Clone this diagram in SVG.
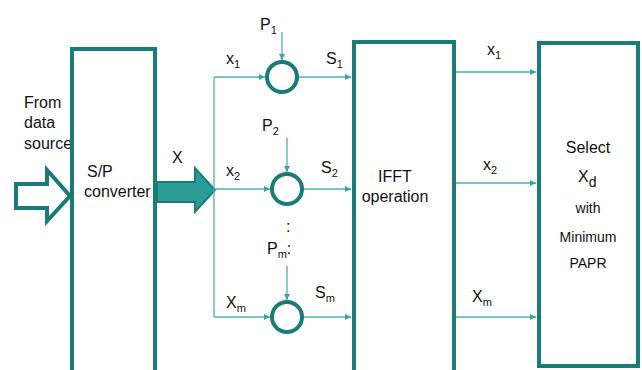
<svg xmlns="http://www.w3.org/2000/svg" width="642" height="370" viewBox="0 0 642 370">
<style>
text{font-family:"Liberation Sans",Arial,sans-serif;fill:#111;font-size:16px}
.s{font-size:11px}
.sm{font-size:14px}
.box{fill:#fff;stroke:#1b7b78;stroke-width:4}
.ring{fill:#fff;stroke:#1b7b78;stroke-width:4}
.ln{fill:none;stroke:#4fb0ab;stroke-width:1.3}
</style>
<defs>
<marker id="ah" markerUnits="userSpaceOnUse" markerWidth="7" markerHeight="7" refX="6" refY="3.5" orient="auto">
<path d="M0,0.5 L6,3.5 L0,6.5 Z" fill="#3aa39d"/>
</marker>
</defs>
<rect width="642" height="370" fill="#fff"/>

<g id="source">
<text x="24" y="108">From</text>
<text x="24" y="128">data</text>
<text x="24" y="149">source</text>
<path d="M16,184 H47 V170 L70,196 L47,221 V208 H16 Z" fill="#fff" stroke="#1b7b78" stroke-width="4" stroke-linejoin="miter"/>
</g>

<g id="sp">
<path class="box" d="M72,372 V49 H155 V372"/>
<text x="87" y="177">S/P</text>
<text x="84" y="197">converter</text>
</g>

<g id="xarrow">
<path d="M157,182 H195 V168 L215,190 L195,212 V202 H157 Z" fill="#2a9d96" stroke="#1b7b78" stroke-width="2"/>
<text x="172" y="163">X</text>
</g>

<g id="mix1">
<circle class="ring" cx="282" cy="77" r="15"/>
<text x="260" y="30">P<tspan class="s" dy="4">1</tspan></text>
</g>
<g id="mix2">
<circle class="ring" cx="287" cy="189" r="15"/>
<text x="262" y="131">P<tspan class="s" dy="4">2</tspan></text>
</g>
<g id="mixm">
<circle class="ring" cx="287" cy="317" r="15"/>
<text x="267" y="254">P<tspan class="s" dy="4">m</tspan><tspan dy="-4">:</tspan></text>
<text x="286" y="232">:</text>
</g>

<g id="ifft">
<path class="box" d="M354,372 V42 H454 V372"/>
<text x="395" y="182" text-anchor="middle">IFFT</text>
<text x="395" y="202" text-anchor="middle">operation</text>
</g>

<g id="select">
<rect class="box" x="539" y="43" width="99" height="323"/>
<text x="588" y="153" text-anchor="middle">Select</text>
<text x="578" y="182">X<tspan dy="5" class="sm">d</tspan></text>
<text class="sm" x="588" y="213" text-anchor="middle">with</text>
<text class="sm" x="588" y="242" text-anchor="middle">Minimum</text>
<text class="sm" x="588" y="268" text-anchor="middle">PAPR</text>
</g>

<g id="connectors">
<path class="ln" d="M214,77 V317"/>
<path class="ln" d="M214,77 H265" marker-end="url(#ah)"/>
<path class="ln" d="M215,189 H270" marker-end="url(#ah)"/>
<path class="ln" d="M214,317 H270" marker-end="url(#ah)"/>
<path class="ln" d="M282,32 V60" marker-end="url(#ah)"/>
<path class="ln" d="M287,138 V172" marker-end="url(#ah)"/>
<path class="ln" d="M287,266 V300" marker-end="url(#ah)"/>
<path class="ln" d="M299,77 H351" marker-end="url(#ah)"/>
<path class="ln" d="M304,189 H351" marker-end="url(#ah)"/>
<path class="ln" d="M304,317 H351" marker-end="url(#ah)"/>
<path class="ln" d="M456,72 H536" marker-end="url(#ah)"/>
<path class="ln" d="M456,183 H536" marker-end="url(#ah)"/>
<path class="ln" d="M456,317 H536" marker-end="url(#ah)"/>
<text x="226" y="64">x<tspan class="s" dy="4">1</tspan></text>
<text x="226" y="176">x<tspan class="s" dy="4">2</tspan></text>
<text x="226" y="308">X<tspan class="s" dy="4">m</tspan></text>
<text x="326" y="64">S<tspan class="s" dy="4">1</tspan></text>
<text x="321" y="173">S<tspan class="s" dy="4">2</tspan></text>
<text x="315" y="298">S<tspan class="s" dy="4">m</tspan></text>
<text x="487" y="55">x<tspan class="s" dy="4">1</tspan></text>
<text x="483" y="170">x<tspan class="s" dy="4">2</tspan></text>
<text x="472" y="302">X<tspan class="s" dy="4">m</tspan></text>
</g>
</svg>
